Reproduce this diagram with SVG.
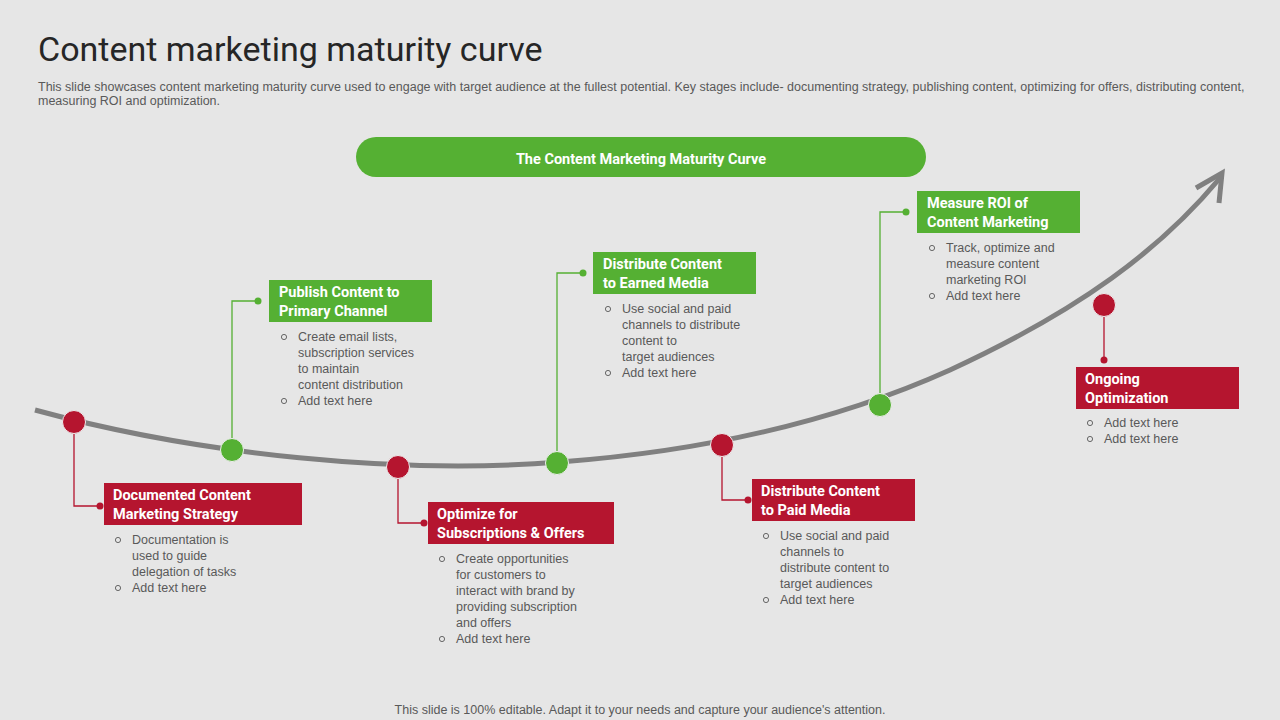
<svg xmlns="http://www.w3.org/2000/svg" width="1280" height="720" viewBox="0 0 1280 720">
<style>
.t{font-family:Roboto,"Liberation Sans",sans-serif;font-weight:bold;font-size:14.5px;fill:#fff}
.b{font-family:"Liberation Sans",Arial,sans-serif;font-size:12.5px;fill:#595959}
.g{fill:#55B033}.r{fill:#B5152F}
.lg{stroke:#55B033;stroke-width:1.3;fill:none}.lr{stroke:#B5152F;stroke-width:1.3;fill:none}
.o{fill:none;stroke:#595959;stroke-width:0.9}
</style>
<rect width="1280" height="720" fill="#E6E6E6"/>
<text x="38" y="61" font-family="Roboto,'Liberation Sans',sans-serif" font-size="34" fill="#262626">Content marketing maturity curve</text>
<text class="b" font-size="11" x="38" y="91">This slide showcases content marketing maturity curve used to engage with target audience at the fullest potential. Key stages include- documenting strategy, publishing content, optimizing for offers, distributing content,</text>
<text class="b" font-size="11" x="38" y="105">measuring ROI and optimization.</text>
<g id="header"><rect x="356" y="137" width="570" height="40" rx="20" class="g"/>
<text x="641" y="164" text-anchor="middle" class="t" font-size="17">The Content Marketing Maturity Curve</text></g>
<g id="connectors">
<path d="M35,410 C200,455 400,475 560,462 C720,450 850,415 950,370 C1080,310 1160,250 1220,178" stroke="#808080" stroke-width="5" fill="none"/>
<polyline points="1196,188 1222,173 1219,203" stroke="#808080" stroke-width="5" fill="none"/>
<polyline class="lr" points="74,422 74,506 100,506"/>
<polyline class="lg" points="232,450 232,301 258,301"/>
<polyline class="lr" points="398,467 398,523 424,523"/>
<polyline class="lg" points="557,463 557,273 583,273"/>
<polyline class="lr" points="722,445 722,500 748,500"/>
<polyline class="lg" points="880,405 880,212 906,212"/>
<line class="lr" x1="1104" y1="305" x2="1104" y2="360"/>
</g>
<g id="n1"><circle cx="74" cy="422" r="11.5" class="r" stroke="#eee" stroke-width="1"/><circle cx="100" cy="506" r="3.5" class="r"/>
<rect x="104" y="483" width="198" height="42" class="r"/>
<text class="t" x="113" y="500">Documented Content</text><text class="t" x="113" y="519">Marketing Strategy</text>
<circle class="o" cx="118" cy="540" r="2.6"/><circle class="o" cx="118" cy="588" r="2.6"/>
<text class="b" x="132" y="544">Documentation is</text><text class="b" x="132" y="560">used to guide</text><text class="b" x="132" y="576">delegation  of tasks</text><text class="b" x="132" y="592">Add text here</text></g>
<g id="n2"><circle cx="232" cy="450" r="11.5" class="g" stroke="#eee" stroke-width="1"/><circle cx="258" cy="301" r="3.5" class="g"/>
<rect x="269" y="280" width="163" height="42" class="g"/>
<text class="t" x="279" y="297">Publish Content to</text><text class="t" x="279" y="316">Primary Channel</text>
<circle class="o" cx="284" cy="337" r="2.6"/><circle class="o" cx="284" cy="401" r="2.6"/>
<text class="b" x="298" y="341">Create email lists,</text><text class="b" x="298" y="357">subscription services</text><text class="b" x="298" y="373">to maintain</text><text class="b" x="298" y="389">content distribution</text><text class="b" x="298" y="405">Add text here</text></g>
<g id="n3"><circle cx="398" cy="467" r="11.5" class="r" stroke="#eee" stroke-width="1"/><circle cx="424" cy="523" r="3.5" class="r"/>
<rect x="428" y="502" width="186" height="42" class="r"/>
<text class="t" x="437" y="519">Optimize for</text><text class="t" x="437" y="538">Subscriptions &amp; Offers</text>
<circle class="o" cx="442" cy="559" r="2.6"/><circle class="o" cx="442" cy="639" r="2.6"/>
<text class="b" x="456" y="563">Create opportunities</text><text class="b" x="456" y="579">for customers to</text><text class="b" x="456" y="595">interact with brand by</text><text class="b" x="456" y="611">providing  subscription</text><text class="b" x="456" y="627">and offers</text><text class="b" x="456" y="643">Add text here</text></g>
<g id="n4"><circle cx="557" cy="463" r="11.5" class="g" stroke="#eee" stroke-width="1"/><circle cx="583" cy="273" r="3.5" class="g"/>
<rect x="593" y="252" width="163" height="42" class="g"/>
<text class="t" x="603" y="269">Distribute Content</text><text class="t" x="603" y="288">to Earned Media</text>
<circle class="o" cx="608" cy="309" r="2.6"/><circle class="o" cx="608" cy="373" r="2.6"/>
<text class="b" x="622" y="313">Use social and paid</text><text class="b" x="622" y="329">channels to distribute</text><text class="b" x="622" y="345">content to</text><text class="b" x="622" y="361">target audiences</text><text class="b" x="622" y="377">Add text here</text></g>
<g id="n5"><circle cx="722" cy="445" r="11.5" class="r" stroke="#eee" stroke-width="1"/><circle cx="748" cy="500" r="3.5" class="r"/>
<rect x="752" y="479" width="163" height="42" class="r"/>
<text class="t" x="761" y="496">Distribute Content</text><text class="t" x="761" y="515">to Paid Media</text>
<circle class="o" cx="766" cy="536" r="2.6"/><circle class="o" cx="766" cy="600" r="2.6"/>
<text class="b" x="780" y="540">Use social and paid</text><text class="b" x="780" y="556">channels to</text><text class="b" x="780" y="572"> distribute content to</text><text class="b" x="780" y="588">target audiences</text><text class="b" x="780" y="604">Add text here</text></g>
<g id="n6"><circle cx="880" cy="405" r="11.5" class="g" stroke="#eee" stroke-width="1"/><circle cx="906" cy="212" r="3.5" class="g"/>
<rect x="917" y="191" width="163" height="42" class="g"/>
<text class="t" x="927" y="208">Measure ROI of</text><text class="t" x="927" y="227">Content Marketing</text>
<circle class="o" cx="932" cy="248" r="2.6"/><circle class="o" cx="932" cy="296" r="2.6"/>
<text class="b" x="946" y="252">Track, optimize and</text><text class="b" x="946" y="268">measure content</text><text class="b" x="946" y="284">marketing ROI</text><text class="b" x="946" y="300">Add text here</text></g>
<g id="n7"><circle cx="1104" cy="305" r="11.5" class="r" stroke="#eee" stroke-width="1"/><circle cx="1104" cy="360" r="3.5" class="r"/>
<rect x="1076" y="367" width="163" height="42" class="r"/>
<text class="t" x="1085" y="384">Ongoing</text><text class="t" x="1085" y="403">Optimization</text>
<circle class="o" cx="1090" cy="423" r="2.6"/><circle class="o" cx="1090" cy="439" r="2.6"/>
<text class="b" x="1104" y="427">Add text here</text><text class="b" x="1104" y="443">Add text here</text></g>
<text class="b" font-size="10.5" x="640" y="714" text-anchor="middle">This slide is 100% editable.  Adapt it to your needs and capture your audience's attention.</text>
</svg>
